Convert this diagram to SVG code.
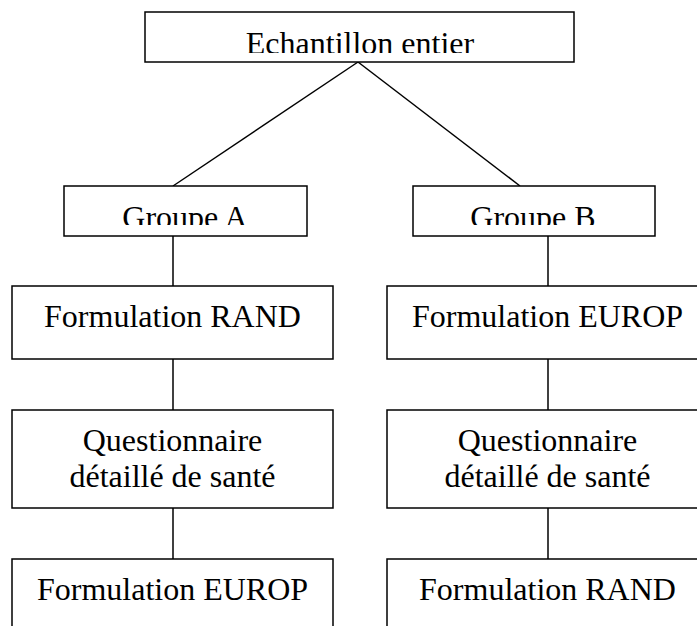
<svg xmlns="http://www.w3.org/2000/svg" width="697" height="626" viewBox="0 0 697 626">
<style>
.box{fill:#fff;stroke:#000;stroke-width:1.5}
.lbl{font-family:'Liberation Serif','Tinos','Times New Roman','Noto Serif','DejaVu Serif',serif;font-size:32px;fill:#000;text-anchor:middle}
.con{stroke:#000;stroke-width:1.5;fill:none}
</style>
<defs>
<clipPath id="clipTop"><rect x="145" y="12" width="429" height="41"/></clipPath>
<clipPath id="clipGA"><rect x="64" y="186" width="243" height="39"/></clipPath>
<clipPath id="clipGB"><rect x="413" y="186" width="242" height="39"/></clipPath>
</defs>
<rect width="697" height="626" fill="#fff"/>
<g id="connectors">
<line class="con" x1="358" y1="62" x2="173" y2="186"/>
<line class="con" x1="358" y1="62" x2="520" y2="186"/>
<line class="con" x1="173" y1="236" x2="173" y2="286"/>
<line class="con" x1="173" y1="359" x2="173" y2="410"/>
<line class="con" x1="173" y1="508" x2="173" y2="559"/>
<line class="con" x1="548" y1="236" x2="548" y2="286"/>
<line class="con" x1="548" y1="359" x2="548" y2="410"/>
<line class="con" x1="548" y1="508" x2="548" y2="559"/>
</g>
<g id="echantillon">
<rect class="box" x="145" y="12" width="429" height="50"/>
<text class="lbl" x="360" y="54" clip-path="url(#clipTop)">Echantillon entier</text>
</g>
<g id="groupeA">
<rect class="box" x="64" y="186" width="243" height="50"/>
<text class="lbl" x="185" y="228" clip-path="url(#clipGA)">Groupe A</text>
</g>
<g id="groupeB">
<rect class="box" x="413" y="186" width="242" height="50"/>
<text class="lbl" x="533" y="228" clip-path="url(#clipGB)">Groupe B</text>
</g>
<g id="a_rand">
<rect class="box" x="12" y="286" width="321" height="73"/>
<text class="lbl" x="172.5" y="327">Formulation RAND</text>
</g>
<g id="a_quest">
<rect class="box" x="12" y="410" width="321" height="98"/>
<text class="lbl" x="172.5" y="451">Questionnaire</text>
<text class="lbl" x="172.5" y="487">détaillé de santé</text>
</g>
<g id="a_europ">
<rect class="box" x="12" y="559" width="321" height="80"/>
<text class="lbl" x="172.5" y="600">Formulation EUROP</text>
</g>
<g id="b_europ">
<rect class="box" x="387" y="286" width="321" height="73"/>
<text class="lbl" x="547.5" y="327">Formulation EUROP</text>
</g>
<g id="b_quest">
<rect class="box" x="387" y="410" width="321" height="98"/>
<text class="lbl" x="547.5" y="451">Questionnaire</text>
<text class="lbl" x="547.5" y="487">détaillé de santé</text>
</g>
<g id="b_rand">
<rect class="box" x="387" y="559" width="321" height="80"/>
<text class="lbl" x="547.5" y="600">Formulation RAND</text>
</g>
</svg>
